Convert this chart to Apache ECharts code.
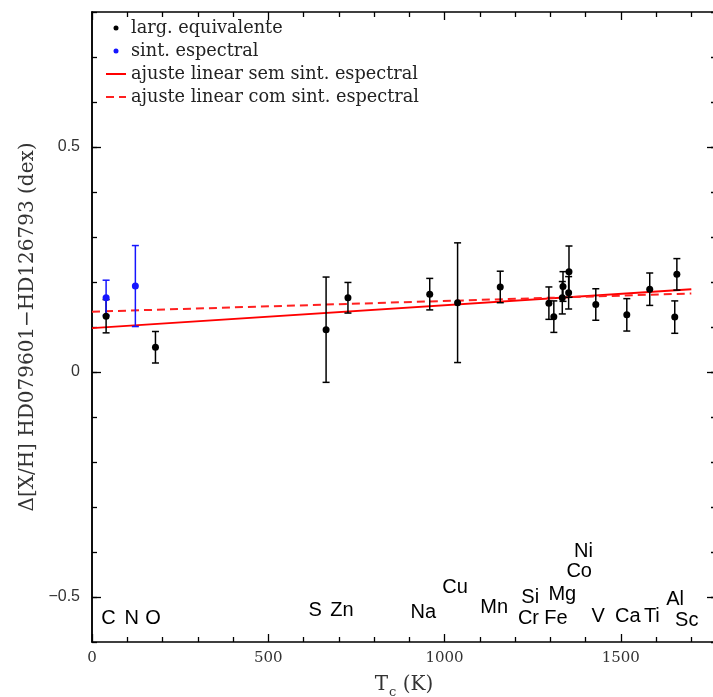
<!DOCTYPE html>
<html>
<head>
<meta charset="utf-8">
<script src="https://cdn.jsdelivr.net/npm/echarts@6/dist/echarts.min.js"></script>
<style>
html,body{margin:0;padding:0;background:#fff;}
#chart{width:713px;height:697px;}
</style>
</head>
<body>
<div id="chart"></div>
<script>
// ---- data ----
// equivalent-width abundances (black)
const ewElems = ['C','O','S','Zn','Na','Cu','Mn','Cr','Si','Fe','Mg','Co','Ni','V','Ca','Ti','Al','Sc'];
const ewTc    = [40,180,664,726,958,1037,1158,1296,1310,1334,1336,1352,1353,1429,1517,1582,1653,1659];
const ewVal   = [0.124,0.055,0.094,0.165,0.173,0.154,0.189,0.153,0.123,0.165,0.190,0.176,0.223,0.150,0.127,0.184,0.122,0.217];
const ewErr   = [0.037,0.035,0.117,0.034,0.035,0.133,0.035,0.036,0.035,0.036,0.033,0.036,0.057,0.035,0.036,0.036,0.036,0.035];
// spectral synthesis abundances (blue)
const synElems = ['C','N'];
const synTc    = [40,123];
const synVal   = [0.165,0.191];
const synErr   = [0.039,0.090];
// linear fits
const fitTc      = [0,1700];
const fitSemSint = [0.0975,0.1837];
const fitComSint = [0.134,0.1745];
// element annotation anchors (data units)
const labelNames = ['C','N','O','S','Zn','Na','Cu','Mn','Si','Cr','Mg','Fe','Ni','Co','V','Ca','Ti','Al','Sc'];
const labelTc    = [47,113,173,633,709,940,1030,1141,1243,1238,1334,1316,1394,1382,1436,1520,1588,1654,1687];
const labelY     = [-0.547,-0.547,-0.547,-0.530,-0.530,-0.535,-0.479,-0.524,-0.501,-0.548,-0.494,-0.548,-0.398,-0.444,-0.544,-0.544,-0.544,-0.505,-0.553];
// axis ticks
const xTickLabels = [0,500,1000,1500];
const yTickLabels = [-0.5,0,0.5];

// ---- chart ----
const chart = echarts.init(document.getElementById('chart'), null, {renderer:'canvas'});
const serif = 'DejaVu Serif';
const sans = 'Liberation Sans';

function errBar(color){
  return function(params, api){
    const x = api.value(0), y = api.value(1), e = api.value(2);
    const t = api.coord([x, y + e]);
    const b = api.coord([x, y - e]);
    const hw = 3.5;
    const st = {stroke: color, lineWidth: 1.5};
    return {type:'group', children:[
      {type:'line', shape:{x1:t[0], y1:t[1], x2:b[0], y2:b[1]}, style:st},
      {type:'line', shape:{x1:t[0]-hw, y1:t[1], x2:t[0]+hw, y2:t[1]}, style:st},
      {type:'line', shape:{x1:b[0]-hw, y1:b[1], x2:b[0]+hw, y2:b[1]}, style:st}
    ]};
  };
}

const axLine = {show:true, onZero:false, lineStyle:{color:'#000', width:1.5}};
const xBase = {min:0, max:1770, interval:500, axisLine:axLine,
  splitLine:{show:false},
  axisTick:{show:true, inside:true, length:8, lineStyle:{color:'#000', width:1.3}},
  minorTick:{show:true, splitNumber:5, length:5, lineStyle:{color:'#000', width:1.3}}};
const yMinor = {type:'value', min:-0.6, max:0.8, interval:0.1, axisLine:axLine,
  splitLine:{show:false},
  axisTick:{show:true, inside:true, length:5, lineStyle:{color:'#000', width:1.3}},
  axisLabel:{show:false}};

const option = {
  animation:false,
  backgroundColor:'#fff',
  grid:{left:92, top:12, width:624, height:630, containLabel:false, outerBoundsMode:'none'},
  legend:{
    orient:'vertical', left:100, top:14, itemWidth:20, itemHeight:5, itemGap:5,
    textStyle:{fontFamily:serif, fontSize:17.7, color:'#222'},
    data:[
      {name:'larg. equivalente', icon:'circle'},
      {name:'sint. espectral', icon:'circle'},
      {name:'ajuste linear sem sint. espectral', itemStyle:{opacity:0}},
      {name:'ajuste linear com sint. espectral', itemStyle:{opacity:0}}
    ]
  },
  xAxis:[
    Object.assign({type:'value', position:'bottom',
      axisLabel:{show:true, margin:9, fontFamily:serif, fontSize:15, color:'#333',
        showMaxLabel:false,
        formatter:function(v){ return xTickLabels.indexOf(v) >= 0 ? String(v) : ''; }},
      name:'{t|T}{s|c}{t| (K)}', nameLocation:'middle', nameGap:33,
      nameTextStyle:{rich:{
        t:{fontFamily:serif, fontSize:20, color:'#333', lineHeight:20, verticalAlign:'top'},
        s:{fontFamily:serif, fontSize:13, color:'#333', lineHeight:13, padding:[11,0,0,1], verticalAlign:'top'}
      }}
    }, xBase),
    Object.assign({type:'value', position:'top', axisLabel:{show:false}}, xBase)
  ],
  yAxis:[
    Object.assign({position:'left'}, yMinor),
    {type:'value', position:'left', min:-0.6, max:0.8, interval:0.1,
      axisLine:axLine, splitLine:{show:false},
      axisTick:{show:true, inside:true, length:9, customValues:yTickLabels, lineStyle:{color:'#000', width:1.3}},
      axisLabel:{show:true, customValues:yTickLabels, margin:12, fontFamily:sans, fontSize:16, color:'#333',
        formatter:function(v){ if (Math.abs(v) < 1e-9) return '0'; return v < 0 ? '\u2212' + Math.abs(v) : String(v); }},
      name:'\u0394[X/H] HD079601\u2212HD126793 (dex)', nameLocation:'middle', nameGap:53,
      nameTextStyle:{fontFamily:serif, fontSize:20, color:'#333'}
    },
    Object.assign({position:'right'}, yMinor),
    {type:'value', position:'right', min:-0.6, max:0.8, interval:0.1,
      axisLine:axLine, splitLine:{show:false},
      axisTick:{show:true, inside:true, length:9, customValues:yTickLabels, lineStyle:{color:'#000', width:1.3}},
      axisLabel:{show:false}}
  ],
  series:[
    {name:'ajuste linear sem sint. espectral', type:'line', xAxisIndex:0, yAxisIndex:0,
      data: fitTc.map((x,i)=>[x, fitSemSint[i]]), symbol:'none', z:2,
      lineStyle:{color:'#ff0000', width:2}, itemStyle:{color:'#ff0000'}},
    {name:'ajuste linear com sint. espectral', type:'line', xAxisIndex:0, yAxisIndex:0,
      data: fitTc.map((x,i)=>[x, fitComSint[i]]), symbol:'none', z:2,
      lineStyle:{color:'#ff2020', width:2, type:[8,5]}, itemStyle:{color:'#ff2020'}},
    {name:'errEW', type:'custom', xAxisIndex:0, yAxisIndex:0, z:3,
      data: ewTc.map((x,i)=>[x, ewVal[i], ewErr[i]]), encode:{x:0, y:1},
      renderItem: errBar('#000')},
    {name:'errSyn', type:'custom', xAxisIndex:0, yAxisIndex:0, z:3,
      data: synTc.map((x,i)=>[x, synVal[i], synErr[i]]), encode:{x:0, y:1},
      renderItem: errBar('#1515ff')},
    {name:'larg. equivalente', type:'scatter', xAxisIndex:0, yAxisIndex:0, z:4,
      data: ewTc.map((x,i)=>[x, ewVal[i]]), symbol:'circle', symbolSize:7,
      itemStyle:{color:'#000', opacity:1}},
    {name:'sint. espectral', type:'scatter', xAxisIndex:0, yAxisIndex:0, z:4,
      data: synTc.map((x,i)=>[x, synVal[i]]), symbol:'circle', symbolSize:7,
      itemStyle:{color:'#1515ff', opacity:1}},
    {name:'elements', type:'scatter', xAxisIndex:0, yAxisIndex:0, z:5, silent:true,
      data: labelTc.map((x,i)=>({name:labelNames[i], value:[x, labelY[i]]})),
      symbolSize:0, itemStyle:{opacity:1},
      label:{show:true, position:'inside', formatter:'{b}', fontFamily:sans, fontSize:20, color:'#000', opacity:1,
        align:'center', verticalAlign:'middle'}}
  ]
};
chart.setOption(option);
</script>
</body>
</html>
